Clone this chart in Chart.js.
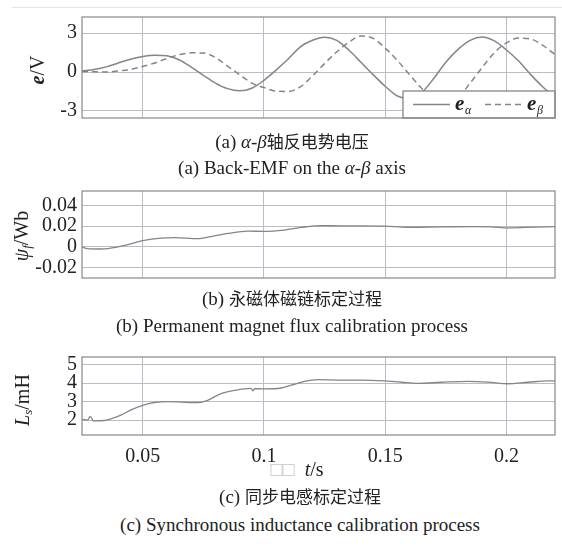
<!DOCTYPE html>
<html>
<head>
<meta charset="utf-8">
<script src="https://cdn.jsdelivr.net/npm/chart.js@4.4.1/dist/chart.umd.min.js"></script>
<style>
  body{margin:0;background:#fff;width:562px;height:547px;position:relative;overflow:hidden;
       font-family:"Liberation Serif","Times New Roman","Noto Sans CJK SC",serif;color:#222}
  canvas{position:absolute;left:0}
  .cap{position:absolute;transform:translate(-50%,-50%);white-space:nowrap;font-size:19px;line-height:20px}
  .cap .zh{font-family:"Noto Sans CJK SC",sans-serif;font-size:17px}
  .yt{position:absolute;transform:translate(-50%,-50%) rotate(-90deg);white-space:nowrap;font-size:20px;line-height:22px}
  .yt sub{font-size:13px;vertical-align:-3px}
  .topline{position:absolute;left:12px;right:0;top:7px;height:1px;background:#e4e4e4}
</style>
</head>
<body>
<div class="topline"></div>
<canvas id="emf" width="562" height="135" style="top:0"></canvas>
<canvas id="flux" width="562" height="125" style="top:170px"></canvas>
<canvas id="ind" width="562" height="130" style="top:335px"></canvas>

<div class="yt" style="left:37px;top:70px"><b><i>e</i></b>/V</div>
<div class="yt" style="left:24px;top:236px"><i>ψ</i><sub><i>f</i></sub>/Wb</div>
<div class="yt" style="left:25px;top:400px"><i>L</i><sub><i>s</i></sub>/mH</div>

<div class="cap" style="left:292px;top:141px">(a) <i>α</i>-<i>β</i><span class="zh">轴反电势电压</span></div>
<div class="cap" style="left:292px;top:168px">(a) Back-EMF on the <i>α</i>-<i>β</i> axis</div>
<div class="cap" style="left:292px;top:298px">(b) <span class="zh">永磁体磁链标定过程</span></div>
<div class="cap" style="left:292px;top:326px">(b) Permanent magnet flux calibration process</div>
<div class="cap" style="left:297px;top:469px;font-size:20px"><span style="color:#c4c4c4">□□</span>&nbsp; <i>t</i>/s</div>
<div class="cap" style="left:300px;top:496px">(c) <span class="zh">同步电感标定过程</span></div>
<div class="cap" style="left:300px;top:525px">(c) Synchronous inductance calibration process</div>

<script>
// time axis (s) and tick values
const xTicks = [0.05, 0.1, 0.15, 0.2];
const xMin = 0.025, xMax = 0.22;

// (a) back-EMF
const tEmf = [0.025,0.03,0.035,0.04,0.045,0.05,0.055,0.06,0.065,0.07,
              0.075,0.08,0.085,0.09,0.095,0.1,0.105,0.11,0.115,0.12,
              0.125,0.13,0.135,0.14,0.145,0.15,0.155,0.16,0.165,0.17,
              0.175,0.18,0.185,0.19,0.195,0.2,0.205,0.21,0.215,0.22];
const eAlpha = [0.08,0.2,0.4,0.7,0.98,1.2,1.3,1.25,0.95,0.38,
                -0.25,-0.85,-1.28,-1.45,-1.25,-0.64,0.15,1.0,1.95,2.45,
                2.68,2.45,1.7,0.75,-0.2,-1.1,-1.85,-2.05,-1.6,-0.5,
                0.75,1.75,2.45,2.7,2.4,1.7,0.85,-0.2,-1.15,-1.95];
const eBeta = [0.05,0.02,0.0,0.08,0.2,0.43,0.7,1.05,1.33,1.48,
               1.47,1.12,0.45,-0.2,-0.85,-1.2,-1.48,-1.5,-1.15,-0.3,
               0.65,1.55,2.3,2.78,2.6,1.85,0.9,-0.2,-1.25,-2.15,
               -2.55,-2.0,-0.85,0.35,1.5,2.25,2.62,2.55,2.05,1.35];
const emfTicks = [-3, 0, 3];

// (b) permanent magnet flux
const tFlux = [0.025,0.0273,0.0328,0.0397,0.045,0.05,0.0576,0.0631,0.0727,0.0782,
               0.0851,0.0934,0.1,0.1085,0.1154,0.1236,0.1319,0.1401,0.1498,0.1594,
               0.1732,0.1869,0.1938,0.2007,0.2076,0.22];
const psiF = [0,-0.0016,-0.002,0,0.003,0.006,0.0085,0.009,0.008,0.01,
              0.013,0.0153,0.015,0.0163,0.0188,0.0206,0.0203,0.0203,0.02,0.019,
              0.0194,0.0197,0.0194,0.0184,0.0188,0.0197];
const fluxTicks = [-0.02, 0, 0.02, 0.04];

// (c) synchronous inductance
const tInd = [0.025,0.0273,0.0284,0.0295,0.03,0.0342,0.0369,0.0411,0.045,0.05,
              0.0548,0.0603,0.0672,0.0727,0.0768,0.0823,0.0878,0.0947,0.0955,0.0962,
              0.1,0.1071,0.1112,0.1167,0.1222,0.1319,0.1401,0.1498,0.1567,0.1636,
              0.1732,0.1842,0.1924,0.2007,0.2089,0.2172,0.22];
const Ls = [2.04,2.0,2.2,1.98,1.96,1.98,2.07,2.27,2.54,2.8,
            2.95,3.0,2.96,2.95,3.07,3.43,3.6,3.71,3.58,3.7,
            3.68,3.73,3.88,4.09,4.18,4.16,4.16,4.11,4.04,3.98,
            4.04,4.09,4.05,3.96,4.04,4.11,4.11];
const indTicks = [2, 3, 4, 5];

const lineColor = '#858585';
const gridColor = '#babdc7';
const frameColor = '#888888';

Chart.defaults.font.family = '"Liberation Serif","Times New Roman",serif';
Chart.defaults.color = '#222';

function pts(xs, ys){ return xs.map((x,i)=>({x:x, y:ys[i]})); }
function fixTicks(arr){ return s => { s.ticks = arr.map(v=>({value:v})); }; }
function fmt(v){ return String(+v.toFixed(3)); }

// box round the plot area
const framePlugin = {
  id:'frame',
  afterDraw(chart){
    const a = chart.chartArea, ctx = chart.ctx;
    ctx.save();
    ctx.strokeStyle = frameColor; ctx.lineWidth = 1.2;
    ctx.strokeRect(a.left, a.top, a.right-a.left, a.bottom-a.top);
    ctx.restore();
  }
};

// legend box in the lower right corner of (a)
const emfLegend = {
  id:'emfLegend',
  afterDatasetsDraw(chart){
    const a = chart.chartArea, ctx = chart.ctx;
    const w = 152, h = 27;
    const x0 = a.right - w, y0 = a.bottom - h, yc = y0 + h/2;
    ctx.save();
    ctx.fillStyle = '#fff';
    ctx.fillRect(x0, y0, w, h);
    ctx.strokeStyle = '#7a7a7a'; ctx.lineWidth = 1.2;
    ctx.strokeRect(x0, y0, w, h);
    const items = [{sub:'α', x:x0+10}, {sub:'β', x:x0+82}];
    chart.data.datasets.forEach((ds,i)=>{
      const it = items[i];
      ctx.strokeStyle = ds.borderColor; ctx.lineWidth = 1.5;
      ctx.setLineDash(ds.borderDash || []);
      ctx.beginPath(); ctx.moveTo(it.x, yc); ctx.lineTo(it.x+37, yc); ctx.stroke();
      ctx.setLineDash([]);
      ctx.fillStyle = '#222';
      ctx.textBaseline = 'alphabetic';
      ctx.font = 'italic bold 21px "Liberation Serif"';
      ctx.fillText('e', it.x+42, yc+5);
      ctx.font = 'italic 12px "Liberation Serif"';
      ctx.fillText(it.sub, it.x+52, yc+9);
    });
    ctx.restore();
  }
};

function makeChart(id, datasets, yMin, yMax, yTicks, pad, showX, extra){
  return new Chart(document.getElementById(id), {
    type:'line',
    data:{datasets:datasets},
    options:{
      responsive:false, animation:false, devicePixelRatio:1,
      layout:{padding:pad},
      plugins:{legend:{display:false}, tooltip:{enabled:false}},
      elements:{point:{radius:0}, line:{tension:0.4, cubicInterpolationMode:'monotone'}},
      scales:{
        x:{type:'linear', min:xMin, max:xMax, afterBuildTicks:fixTicks(xTicks),
           afterFit: s => { s.height = showX ? 30 : 0; },
           grid:{color:gridColor, drawTicks:false}, border:{display:false},
           ticks:{display:showX, autoSkip:false, maxRotation:0, padding:10, font:{size:20}, color:'#222', callback:fmt}},
        y:{min:yMin, max:yMax, afterBuildTicks:fixTicks(yTicks),
           afterFit: s => { s.width = 82; },
           grid:{color:gridColor, drawTicks:false}, border:{display:false},
           ticks:{autoSkip:false, padding:5, font:{size:20}, color:'#222', callback:fmt}}
      }
    },
    plugins:[framePlugin].concat(extra || [])
  });
}

makeChart('emf', [
  {data:pts(tEmf,eAlpha), borderColor:lineColor, borderWidth:1.5},
  {data:pts(tEmf,eBeta), borderColor:lineColor, borderWidth:1.5, borderDash:[6,4]}
], -3.55, 4.25, emfTicks, {left:0, right:7, top:14, bottom:17}, false, [emfLegend]);

makeChart('flux', [
  {data:pts(tFlux,psiF), borderColor:lineColor, borderWidth:1.3}
], -0.03, 0.054, fluxTicks, {left:0, right:7, top:21, bottom:15}, false);

makeChart('ind', [
  {data:pts(tInd,Ls), borderColor:lineColor, borderWidth:1.3}
], 1.2, 5.4, indTicks, {left:0, right:7, top:22, bottom:0}, true);
</script>
</body>
</html>
